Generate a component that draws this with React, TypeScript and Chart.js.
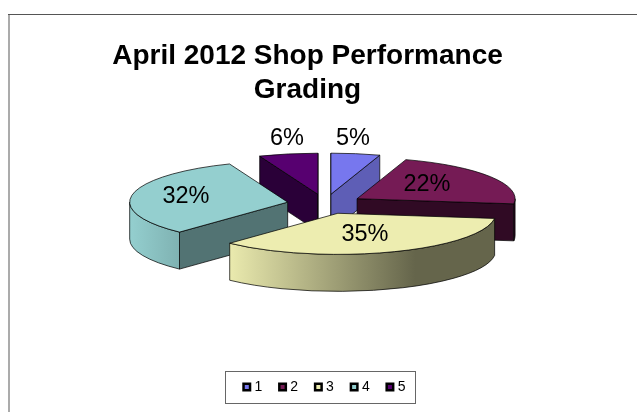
import React, { useEffect, useRef } from "react";
import { Chart, registerables } from "chart.js";

Chart.register(...registerables);

const categories = ["1", "2", "3", "4", "5"];
const shares = [5, 22, 35, 32, 6];
const titleLines = ["April 2012 Shop Performance", "Grading"];

const topColors = ["#7777EE", "#751B55", "#EDEDB0", "#94CFCF", "#570070"];
const wallColors = ["#5E5EB6", "#300A24", "#65654B", "#527373", "#2A0038"];
const rimStops: string[][] = [
  ["#5E5EB6", "#5E5EB6"],
  ["#300A24", "#300A24"],
  ["#EAEAAE", "#65654B"],
  ["#94CFCF", "#7FB2B2"],
  ["#2A0038", "#2A0038"],
];

// painting order, back to front
const paintOrder = [4, 0, 1, 3, 2];
const labelOffsets = [
  [28, -65],
  [102, -19],
  [40, 31],
  [-139, -7],
  [-38, -65],
];

const PIE_RADIUS = 158;
const EXPLODE = 38;
const SQUASH = 0.26;
const DEPTH = 37;
const PIE_SHIFT_X = -0.5;
const PIE_CENTER_Y = 204;
const TITLE_SHIFT_X = 18;

const pie3d = {
  id: "pie3d",
  afterLayout(chart: any) {
    const t = chart.titleBlock;
    if (t) {
      t.left -= TITLE_SHIFT_X;
      t.right -= TITLE_SHIFT_X;
    }
  },
  beforeDraw(chart: any) {
    const { ctx, width, height } = chart;
    ctx.save();
    ctx.fillStyle = "#fff";
    ctx.fillRect(0, 0, width, height);
    ctx.strokeStyle = "#ABABAB";
    ctx.lineWidth = 2;
    ctx.beginPath();
    ctx.moveTo(9, 14);
    ctx.lineTo(9, height);
    ctx.stroke();
    ctx.strokeStyle = "#555";
    ctx.lineWidth = 1.2;
    ctx.beginPath();
    ctx.moveTo(8, 14.5);
    ctx.lineTo(width, 14.5);
    ctx.stroke();
    ctx.restore();
  },
  beforeDatasetDraw(chart: any) {
    const { ctx } = chart;
    const arcs = chart.getDatasetMeta(0).data;
    const first = arcs[0];
    const cx = first.x + PIE_SHIFT_X;
    const cy = PIE_CENTER_Y;
    ctx.save();
    ctx.lineJoin = "round";
    ctx.strokeStyle = "rgba(0,0,0,0.9)";
    ctx.lineWidth = 0.8;
    paintOrder.forEach((i) => {
      const arc = arcs[i];
      const a0: number = arc.startAngle;
      const a1: number = arc.endAngle;
      const mid = (a0 + a1) / 2;
      const rx: number = arc.outerRadius;
      const ry = rx * SQUASH;
      const e: number = arc.options.offset;
      const ax = cx + Math.cos(mid) * e;
      const ay = cy + Math.sin(mid) * e * SQUASH;
      const pt = (t: number, dz = 0) => [ax + Math.cos(t) * rx, ay + Math.sin(t) * ry + dz];
      const wall = (t: number) => {
        const [px, py] = pt(t);
        ctx.beginPath();
        ctx.moveTo(ax, ay);
        ctx.lineTo(px, py);
        ctx.lineTo(px, py + DEPTH);
        ctx.lineTo(ax, ay + DEPTH);
        ctx.closePath();
        ctx.fillStyle = wallColors[i];
        ctx.fill();
        ctx.stroke();
      };
      const faces = (t: number) => {
        const dx = Math.cos(t);
        const dy = Math.sin(t) * SQUASH;
        const mx = Math.cos(mid);
        const my = Math.sin(mid) * SQUASH;
        if (Math.abs(dx) < 1e-6) return my < 0;
        return my < (dy / dx) * mx;
      };
      if (faces(a0)) wall(a0);
      if (faces(a1)) wall(a1);
      // the outer rim: the part of the arc that faces the viewer
      const twoPi = Math.PI * 2;
      const ranges: [number, number][] = [
        [Math.max(a0, 0), Math.min(a1, Math.PI)],
        [Math.max(a0, twoPi), Math.min(a1, twoPi + Math.PI)],
      ];
      ranges.forEach(([r0, r1]) => {
        if (r1 <= r0) return;
        const [sx] = pt(r1);
        const [ex] = pt(r0);
        const g = ctx.createLinearGradient(sx, 0, ex, 0);
        g.addColorStop(0, rimStops[i][0]);
        g.addColorStop(i === 2 ? 0.7 : 1, rimStops[i][1]);
        g.addColorStop(1, rimStops[i][1]);
        ctx.beginPath();
        ctx.ellipse(ax, ay, rx, ry, 0, r0, r1, false);
        ctx.ellipse(ax, ay + DEPTH, rx, ry, 0, r1, r0, true);
        ctx.closePath();
        ctx.fillStyle = g;
        ctx.fill();
        ctx.stroke();
      });
      ctx.beginPath();
      ctx.moveTo(ax, ay);
      ctx.ellipse(ax, ay, rx, ry, 0, a0, a1, false);
      ctx.closePath();
      ctx.fillStyle = topColors[i];
      ctx.fill();
      ctx.stroke();
    });
    // percentage labels
    ctx.fillStyle = "#000";
    ctx.font = "23.5px 'Liberation Sans'";
    ctx.textAlign = "center";
    ctx.textBaseline = "middle";
    const total = shares.reduce((a, b) => a + b, 0);
    shares.forEach((v, i) => {
      const [ox, oy] = labelOffsets[i];
      ctx.fillText(`${Math.round((v / total) * 100)}%`, cx + ox, cy + oy);
    });
    ctx.restore();
    return false;
  },
  afterDraw(chart: any) {
    const { ctx, legend } = chart;
    const boxes = legend.legendHitBoxes;
    if (!boxes || !boxes.length) return;
    const midY = boxes[0].top + boxes[0].height / 2;
    ctx.save();
    // swatches sit tight against their digits, closer than the legend's own gap
    boxes.forEach((b: any, i: number) => {
      ctx.fillStyle = topColors[i];
      ctx.strokeStyle = "#000";
      ctx.lineWidth = 2.5;
      const s = 6.5;
      const x = b.left - 2;
      ctx.fillRect(x, midY - s / 2, s, s);
      ctx.strokeRect(x, midY - s / 2, s, s);
    });
    const left = boxes[0].left - 3.3 - 17.5;
    const last = boxes[boxes.length - 1];
    const right = last.left + last.width + 9;
    ctx.strokeStyle = "#666";
    ctx.lineWidth = 1;
    ctx.strokeRect(Math.round(left) + 0.5, Math.round(midY - 16) + 0.5, Math.round(right - left), 32);
    ctx.restore();
  },
};

export default function App() {
  const ref = useRef<HTMLCanvasElement>(null);
  useEffect(() => {
    const chart = new Chart(ref.current as HTMLCanvasElement, {
      type: "pie",
      data: {
        labels: categories,
        datasets: [
          {
            data: shares,
            backgroundColor: topColors,
            borderWidth: 0,
            offset: EXPLODE,
            radius: PIE_RADIUS,
          } as any,
        ],
      },
      options: {
        animation: false,
        responsive: false,
        devicePixelRatio: 1,
        layout: { padding: { left: 14, right: 0, top: 0, bottom: 8 } },
        plugins: {
          tooltip: { enabled: false },
          title: {
            display: true,
            text: titleLines,
            color: "#000",
            font: { family: "'Liberation Sans'", size: 28, weight: "bold", lineHeight: 1.214 },
            padding: { top: 39, bottom: 0 },
          },
          legend: {
            display: true,
            position: "bottom",
            labels: {
              color: "#000",
              boxWidth: 2,
              boxHeight: 2,
              padding: 19,
              font: { family: "'Liberation Sans'", size: 14 },
              generateLabels: () =>
                categories.map((c, i) => ({
                  text: c,
                  fillStyle: "rgba(0,0,0,0)",
                  strokeStyle: "rgba(0,0,0,0)",
                  lineWidth: 0,
                  hidden: false,
                  index: i,
                })),
            },
          },
        },
      } as any,
      plugins: [pie3d as any],
    });
    return () => chart.destroy();
  }, []);
  return (
    <div style={{ position: "absolute", left: 0, top: 0, width: 637, height: 412, background: "#fff" }}>
      <canvas ref={ref} width={637} height={412} style={{ display: "block" }} />
    </div>
  );
}
